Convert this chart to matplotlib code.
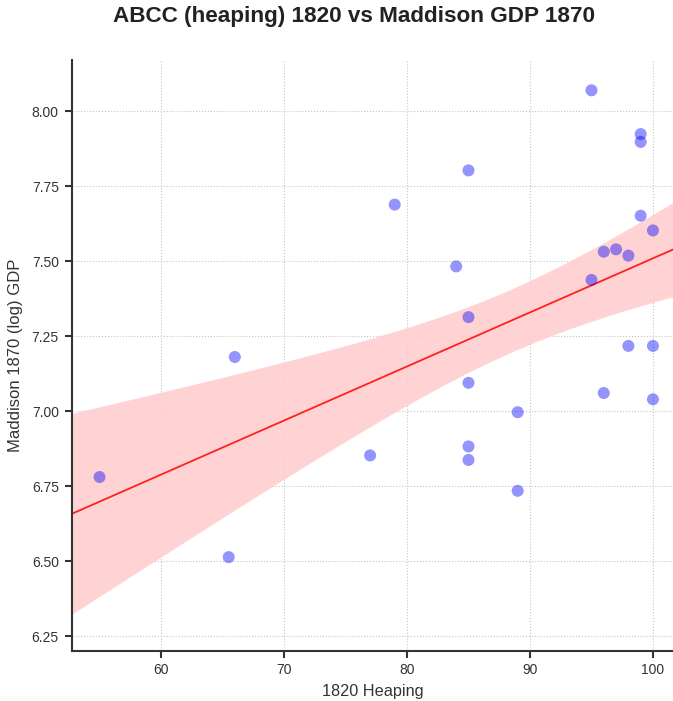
import numpy as np
import matplotlib
matplotlib.use("Agg")
import matplotlib.pyplot as plt

plt.rcParams['font.family'] = ['Liberation Sans', 'DejaVu Sans']

title = "ABCC (heaping) 1820 vs Maddison GDP 1870"
x_label = "1820 Heaping"
y_label = "Maddison 1870 (log) GDP"

heaping_1820 = [55, 65.5, 66, 77, 79, 85, 84, 85, 85, 85, 85, 89, 89,
                95, 99, 99, 99, 100, 96, 97, 98, 95, 98, 100, 96, 100]
gdp_1870_log = [6.78, 6.513, 7.18, 6.852, 7.688, 7.802, 7.482, 7.313, 7.094,
                6.882, 6.837, 6.996, 6.734, 8.069, 7.923, 7.897, 7.651, 7.602,
                7.531, 7.539, 7.518, 7.437, 7.217, 7.217, 7.06, 7.039]

x_ticks = [60, 70, 80, 90, 100]
y_ticks = [6.25, 6.50, 6.75, 7.00, 7.25, 7.50, 7.75, 8.00]

x = np.array(heaping_1820, dtype=float)
y = np.array(gdp_1870_log, dtype=float)

fig = plt.figure(figsize=(6.73, 7.01), dpi=100)
ax = fig.add_axes([0.107, 0.0713, 0.893, 0.8431])
xlim = (52.76, 101.63)
ylim = (6.20, 8.17)
ax.set_xlim(*xlim)
ax.set_ylim(*ylim)

# OLS fit with confidence band (width matched to the bootstrap band of the original)
n = len(x)
X = np.column_stack([np.ones(n), x])
beta, *_ = np.linalg.lstsq(X, y, rcond=None)
resid = y - X @ beta
s2 = resid @ resid / (n - 2)
XtX_inv = np.linalg.inv(X.T @ X)
grid = np.linspace(xlim[0], xlim[1], 200)
G = np.column_stack([np.ones_like(grid), grid])
yhat = G @ beta
se = np.sqrt(np.einsum('ij,jk,ik->i', G, XtX_inv, G) * s2)
band_mult = 1.5
ax.fill_between(grid, yhat - band_mult * se, yhat + band_mult * se,
                color=(1.0, 0.8, 0.8), alpha=0.85, lw=0, zorder=1)
ax.plot(grid, yhat, color='#ff2020', lw=1.3, zorder=2)

ax.scatter(x, y, s=75, color='blue', alpha=0.42, edgecolors='none', zorder=3)

ax.set_xticks(x_ticks)
ax.set_yticks(y_ticks)
ax.set_yticklabels([f"{v:.2f}" for v in y_ticks])
ax.grid(True, linestyle=':', color='#c4c4c4', linewidth=0.8)
ax.set_axisbelow(True)

for side in ['top', 'right']:
    ax.spines[side].set_visible(False)
for side in ['left', 'bottom']:
    ax.spines[side].set_color('#333333')
    ax.spines[side].set_linewidth(1.5)
ax.tick_params(axis='both', direction='out', length=5, width=1.5, color='#333333',
               labelsize=10, labelcolor='#333333')
ax.tick_params(axis='y', pad=4.5)
ax.tick_params(axis='x', pad=3.5)

ax.set_xlabel(x_label, fontsize=11.7, color='#333333', labelpad=5)
ax.set_ylabel(y_label, fontsize=12, color='#333333', labelpad=6)
fig.text(0.526, 0.976, title, ha='center', va='center', fontsize=16.2,
         fontweight='bold', color='#222222')

fig.savefig("out.png", dpi=100)
